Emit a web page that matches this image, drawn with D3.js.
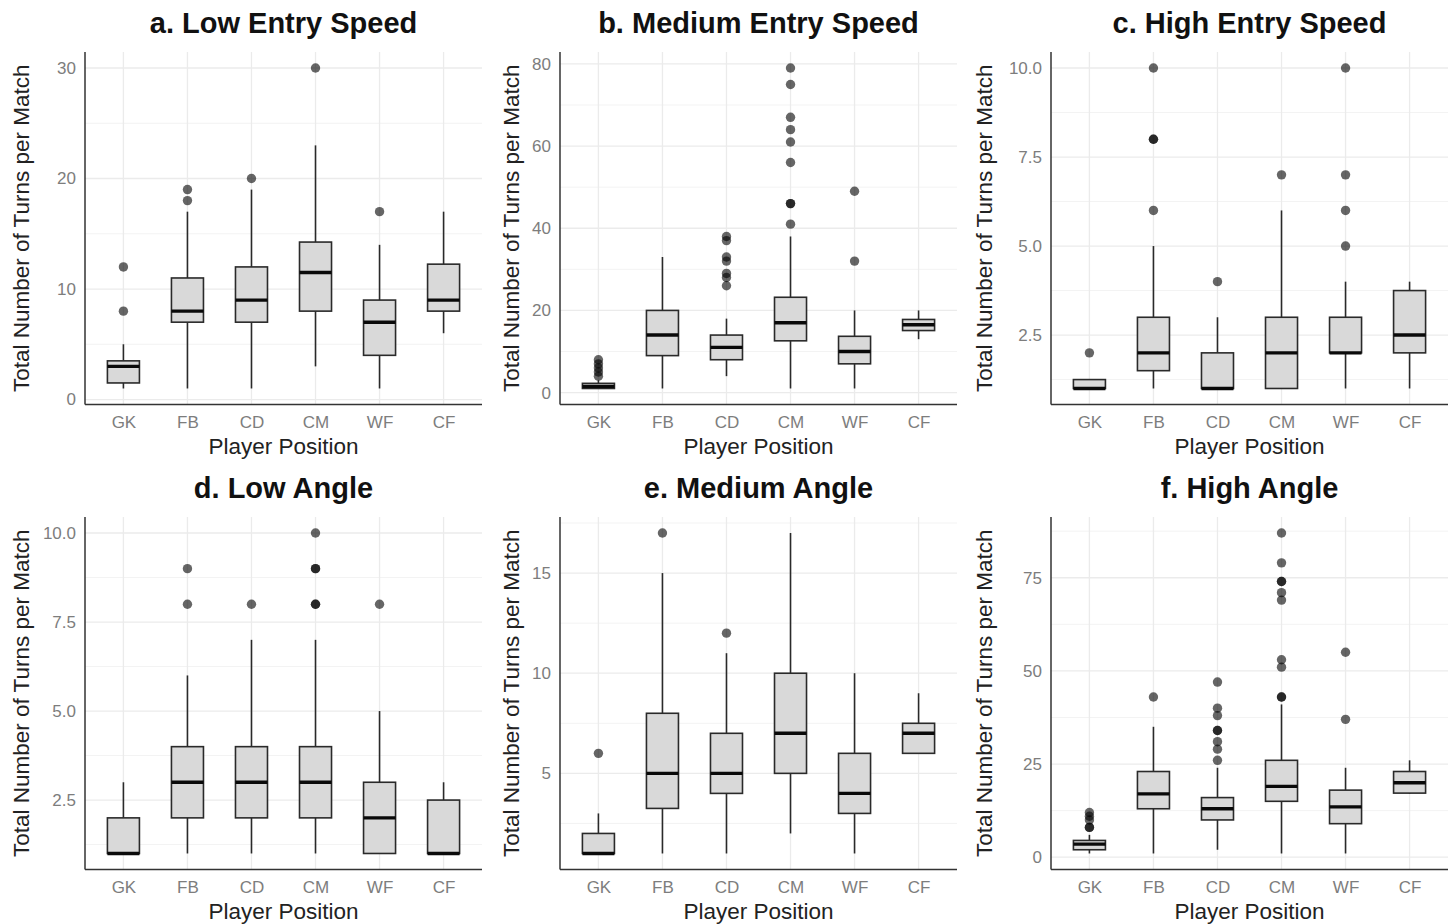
<!DOCTYPE html>
<html>
<head>
<meta charset="utf-8">
<script src="https://cdn.jsdelivr.net/npm/d3@7/dist/d3.min.js"></script>
<style>
  html, body { margin: 0; padding: 0; background: #ffffff; }
  svg { display: block; font-family: "Liberation Sans", Arial, Helvetica, sans-serif; }
</style>
</head>
<body>
<svg id="chart" width="1455" height="924"></svg>
<script>
// ---------------- DATA ----------------
const categories = ["GK", "FB", "CD", "CM", "WF", "CF"];
const panelTitles = ["a. Low Entry Speed", "b. Medium Entry Speed", "c. High Entry Speed",
                     "d. Low Angle", "e. Medium Angle", "f. High Angle"];
const xAxisTitle = "Player Position";
const yAxisTitle = "Total Number of Turns per Match";

// box stats per category: [lower whisker, Q1, median, Q3, upper whisker]
const lowSpeedBoxes = [[1, 1.5, 3, 3.5, 5], [1, 7, 8, 11, 17], [1, 7, 9, 12, 19],
                       [3, 8, 11.5, 14.25, 23], [1, 4, 7, 9, 14], [6, 8, 9, 12.25, 17]];
const lowSpeedOutliers = [[8, 12], [18, 19], [20], [30], [17], []];
const lowSpeedTicks = [0, 10, 20, 30];

const medSpeedBoxes = [[1, 1, 1.5, 2.25, 3], [1, 9, 14, 20, 33], [4, 8, 11, 14, 18],
                       [1, 12.6, 17, 23.2, 38], [1, 7, 10, 13.7, 20], [13, 15.1, 16.5, 17.8, 20]];
const medSpeedOutliers = [[4, 5, 6, 7, 8], [], [26, 28, 29, 32, 33, 37, 38],
                          [41, 46, 46, 56, 61, 64, 67, 75, 79], [32, 49], []];
const medSpeedTicks = [0, 20, 40, 60, 80];

const highSpeedBoxes = [[1, 1, 1, 1.25, 1.25], [1, 1.5, 2, 3, 5], [1, 1, 1, 2, 3],
                        [1, 1, 2, 3, 6], [1, 2, 2, 3, 4], [1, 2, 2.5, 3.75, 4]];
const highSpeedOutliers = [[2], [6, 8, 8, 10], [4], [7], [5, 6, 7, 10], []];
const highSpeedTicks = [2.5, 5, 7.5, 10];

const lowAngleBoxes = [[1, 1, 1, 2, 3], [1, 2, 3, 4, 6], [1, 2, 3, 4, 7],
                       [1, 2, 3, 4, 7], [1, 1, 2, 3, 5], [1, 1, 1, 2.5, 3]];
const lowAngleOutliers = [[], [8, 9], [8], [8, 8, 9, 9, 10], [8], []];
const lowAngleTicks = [2.5, 5, 7.5, 10];

const medAngleBoxes = [[1, 1, 1, 2, 3], [1, 3.25, 5, 8, 15], [1, 4, 5, 7, 11],
                       [2, 5, 7, 10, 17], [1, 3, 4, 6, 10], [6, 6, 7, 7.5, 9]];
const medAngleOutliers = [[6], [17], [12], [], [], []];
const medAngleTicks = [5, 10, 15];

const highAngleBoxes = [[1, 2, 3.5, 4.5, 6], [1, 13, 17, 23, 35], [2, 10, 13, 16, 24],
                        [1, 15, 19, 26, 41], [1, 9, 13.5, 18, 24], [17, 17.2, 20, 23, 26]];
const highAngleOutliers = [[8, 8, 10, 11, 12], [43], [26, 29, 31, 34, 34, 38, 40, 47],
                           [43, 43, 51, 53, 69, 71, 74, 74, 79, 87], [37, 55], []];
const highAngleTicks = [0, 25, 50, 75];

// ---------------- LAYOUT ----------------
const panels = [
  { boxes: lowSpeedBoxes,  outliers: lowSpeedOutliers,  ticks: lowSpeedTicks,  fmt: d3.format("d"),   x0: 85,   y0: 52,  ytx: 29 },
  { boxes: medSpeedBoxes,  outliers: medSpeedOutliers,  ticks: medSpeedTicks,  fmt: d3.format("d"),   x0: 560,  y0: 52,  ytx: 519 },
  { boxes: highSpeedBoxes, outliers: highSpeedOutliers, ticks: highSpeedTicks, fmt: d3.format(".1f"), x0: 1051, y0: 52,  ytx: 992 },
  { boxes: lowAngleBoxes,  outliers: lowAngleOutliers,  ticks: lowAngleTicks,  fmt: d3.format(".1f"), x0: 85,   y0: 517, ytx: 29 },
  { boxes: medAngleBoxes,  outliers: medAngleOutliers,  ticks: medAngleTicks,  fmt: d3.format("d"),   x0: 560,  y0: 517, ytx: 519 },
  { boxes: highAngleBoxes, outliers: highAngleOutliers, ticks: highAngleTicks, fmt: d3.format("d"),   x0: 1051, y0: 517, ytx: 992 }
];
const PW = 397, PH = 352.5;

const svg = d3.select("#chart");

panels.forEach((p, i) => {
  const g = svg.append("g").attr("transform", `translate(${p.x0},${p.y0})`);

  // data range with ggplot-like 5% expansion
  const allVals = p.boxes.flat().concat(p.outliers.flat());
  const [mn, mx] = d3.extent(allVals);
  const pad = (mx - mn) * 0.05;
  const y = d3.scaleLinear().domain([mn - pad, mx + pad]).range([PH, 0]);
  const x = d3.scalePoint().domain(categories).range([0, PW]).padding(0.6);
  const bw = x.step() * 0.5;

  // minor breaks
  const step = p.ticks[1] - p.ticks[0];
  const minor = [];
  for (let k = -1; k < p.ticks.length; k++) {
    const v = p.ticks[0] + step * k + step / 2;
    if (v >= y.domain()[0] && v <= y.domain()[1]) minor.push(v);
  }

  // grid
  g.append("g").selectAll("line").data(minor).join("line")
    .attr("x1", 0).attr("x2", PW).attr("y1", d => y(d)).attr("y2", d => y(d))
    .attr("stroke", "#f3f3f3").attr("stroke-width", 1);
  g.append("g").selectAll("line").data(p.ticks).join("line")
    .attr("x1", 0).attr("x2", PW).attr("y1", d => y(d)).attr("y2", d => y(d))
    .attr("stroke", "#ebebeb").attr("stroke-width", 1.3);
  g.append("g").selectAll("line").data(categories).join("line")
    .attr("x1", d => x(d)).attr("x2", d => x(d)).attr("y1", 0).attr("y2", PH)
    .attr("stroke", "#ebebeb").attr("stroke-width", 1.3);

  // axes (no tick marks)
  const yAxis = d3.axisLeft(y).tickValues(p.ticks).tickFormat(p.fmt).tickSize(0).tickPadding(9);
  const yg = g.append("g").call(yAxis);
  yg.select(".domain").remove();
  yg.selectAll("text").attr("fill", "#7d7d7d").attr("font-size", 17)
    .attr("font-family", "Liberation Sans, Arial, sans-serif");

  const xAxis = d3.axisBottom(x).tickSize(0).tickPadding(11);
  const xg = g.append("g").attr("transform", `translate(0,${PH})`).call(xAxis);
  xg.select(".domain").remove();
  xg.selectAll("text").attr("fill", "#7d7d7d").attr("font-size", 17)
    .attr("font-family", "Liberation Sans, Arial, sans-serif");

  g.append("line").attr("x1", 0).attr("x2", 0).attr("y1", 0).attr("y2", PH)
    .attr("stroke", "#333").attr("stroke-width", 1.5);
  g.append("line").attr("x1", 0).attr("x2", PW).attr("y1", PH).attr("y2", PH)
    .attr("stroke", "#333").attr("stroke-width", 1.5);

  // boxes
  const data = categories.map((c, j) => ({ c, s: p.boxes[j], o: p.outliers[j] }));
  const bg = g.append("g").selectAll("g").data(data).join("g");
  bg.append("line")
    .attr("x1", d => x(d.c)).attr("x2", d => x(d.c))
    .attr("y1", d => y(d.s[4])).attr("y2", d => y(d.s[3]))
    .attr("stroke", "#2a2a2a").attr("stroke-width", 1.6);
  bg.append("line")
    .attr("x1", d => x(d.c)).attr("x2", d => x(d.c))
    .attr("y1", d => y(d.s[1])).attr("y2", d => y(d.s[0]))
    .attr("stroke", "#2a2a2a").attr("stroke-width", 1.6);
  bg.append("rect")
    .attr("x", d => x(d.c) - bw / 2).attr("width", bw)
    .attr("y", d => y(d.s[3])).attr("height", d => Math.max(0, y(d.s[1]) - y(d.s[3])))
    .attr("fill", "#d9d9d9").attr("stroke", "#2a2a2a").attr("stroke-width", 1.6);
  bg.append("line")
    .attr("x1", d => x(d.c) - bw / 2).attr("x2", d => x(d.c) + bw / 2)
    .attr("y1", d => y(d.s[2])).attr("y2", d => y(d.s[2]))
    .attr("stroke", "#0a0a0a").attr("stroke-width", 3.4);
  bg.selectAll("circle").data(d => d.o.map(v => ({ c: d.c, v }))).join("circle")
    .attr("cx", d => x(d.c)).attr("cy", d => y(d.v)).attr("r", 4.7)
    .attr("fill", "#000").attr("fill-opacity", 0.6);

  // titles
  svg.append("text")
    .attr("x", p.x0 + PW / 2).attr("y", p.y0 - 19)
    .attr("text-anchor", "middle").attr("font-weight", "bold")
    .attr("font-size", 29).attr("fill", "#111").text(panelTitles[i]);
  svg.append("text")
    .attr("x", p.x0 + PW / 2).attr("y", p.y0 + PH + 49)
    .attr("text-anchor", "middle").attr("font-size", 22.5).attr("fill", "#222").text(xAxisTitle);
  svg.append("text")
    .attr("transform", `translate(${p.ytx},${p.y0 + PH / 2}) rotate(-90)`)
    .attr("text-anchor", "middle").attr("font-size", 22.5).attr("fill", "#222").text(yAxisTitle);
});
</script>
</body>
</html>
